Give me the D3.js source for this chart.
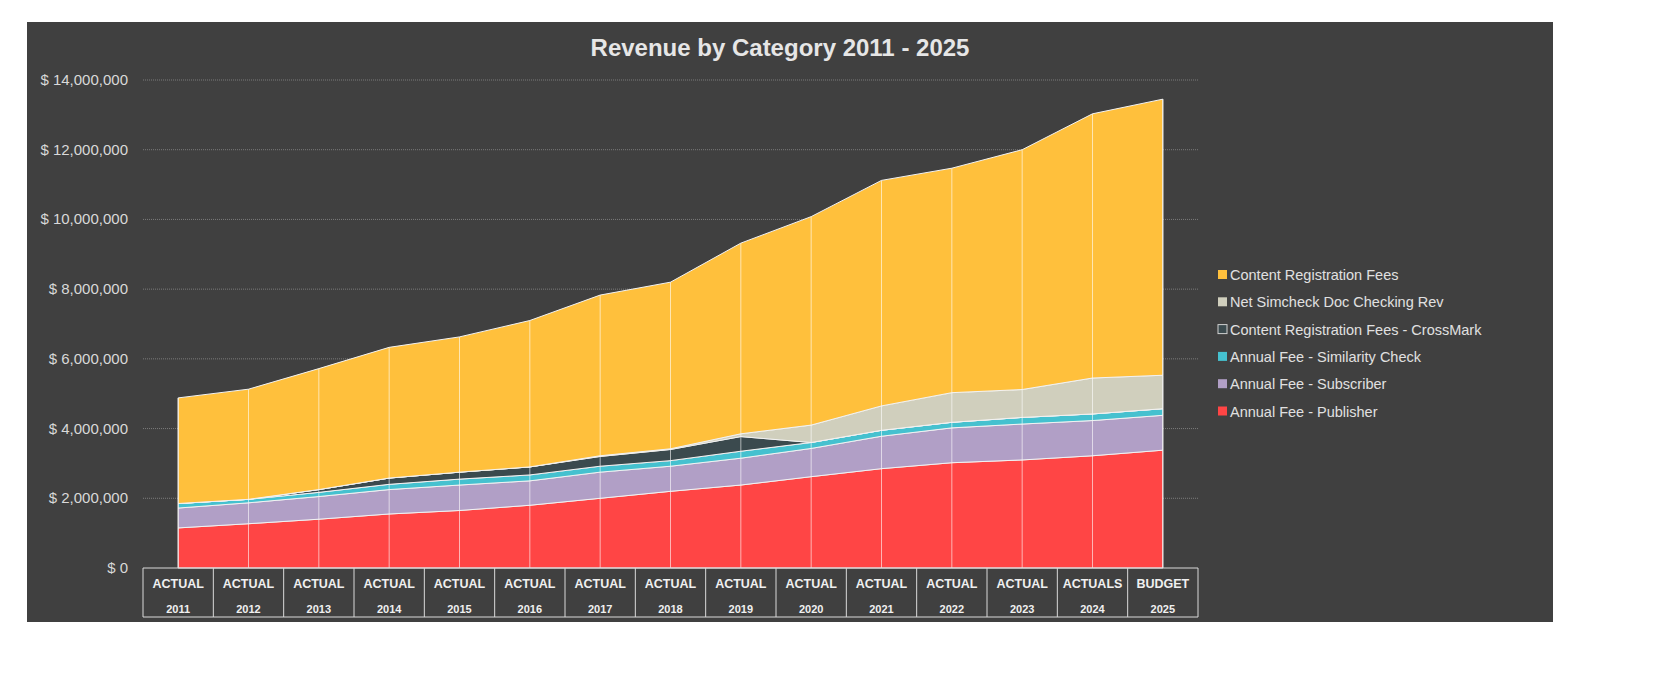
<!DOCTYPE html>
<html>
<head>
<meta charset="UTF-8">
<script src="https://cdn.jsdelivr.net/npm/d3@7/dist/d3.min.js"></script>
<style>
body{margin:0;background:#fff;font-family:"Liberation Sans",Arial,sans-serif;}
</style>
</head>
<body>
<svg id="chart" width="1656" height="688"></svg>
<script>
// stack order bottom -> top
var years=["2011","2012","2013","2014","2015","2016","2017","2018","2019","2020","2021","2022","2023","2024","2025"];
var kinds=["ACTUAL","ACTUAL","ACTUAL","ACTUAL","ACTUAL","ACTUAL","ACTUAL","ACTUAL","ACTUAL","ACTUAL","ACTUAL","ACTUAL","ACTUAL","ACTUALS","BUDGET"];
var seriesNames=["Annual Fee - Publisher","Annual Fee - Subscriber","Annual Fee - Similarity Check","Content Registration Fees - CrossMark","Net Simcheck Doc Checking Rev","Content Registration Fees"];
var colors=["#ff4545","#b19fc6","#45c1cf","#3b4a4e","#d0cfbd","#ffc03c"];
var publisher=[1150000,1270000,1400000,1550000,1650000,1800000,2000000,2200000,2380000,2620000,2850000,3020000,3100000,3220000,3380000];
var subscriber=[570000,600000,650000,700000,730000,700000,750000,720000,770000,810000,930000,1000000,1030000,1010000,1000000];
var similarity=[130000,100000,120000,150000,170000,170000,170000,160000,200000,170000,170000,160000,190000,190000,190000];
var crossmark=[0,0,80000,180000,200000,230000,280000,320000,420000,0,0,0,0,0,0];
var simcheck=[0,0,0,0,0,0,20000,20000,80000,500000,700000,850000,800000,1030000,960000];
var regFees=[3030000,3160000,3470000,3750000,3880000,4200000,4610000,4780000,5470000,5980000,6470000,6440000,6880000,7580000,7920000];
var yTicks=[0,2000000,4000000,6000000,8000000,10000000,12000000,14000000];

var all=[publisher,subscriber,similarity,crossmark,simcheck,regFees];
var rows=years.map(function(y,i){var o={year:y};seriesNames.forEach(function(n,k){o[n]=all[k][i];});return o;});
var stack=d3.stack().keys(seriesNames)(rows);

var svg=d3.select("#chart");
svg.append("rect").attr("x",27).attr("y",22).attr("width",1526).attr("height",600).attr("fill","#404040");
svg.append("text").attr("x",780).attr("y",56).attr("text-anchor","middle").attr("fill","#e6e6e6")
  .attr("font-size",24).attr("font-weight","bold").text("Revenue by Category 2011 - 2025");

var x0=143,x1=1198,yb=568,yt=80;
var band=d3.scaleBand().domain(years).range([x0,x1]);
var x=function(d){return band(d)+band.bandwidth()/2;};
var y=d3.scaleLinear().domain([0,14000000]).range([yb,yt]);

var g=svg.append("g");
g.selectAll(".grid").data(yTicks.slice(1)).enter().append("line")
  .attr("x1",x0).attr("x2",x1).attr("y1",y).attr("y2",y)
  .attr("stroke","#8a8a8a").attr("stroke-width",0.8).attr("stroke-dasharray","1,1");
g.selectAll(".yl").data(yTicks).enter().append("text")
  .attr("x",128).attr("y",function(d){return y(d)+5;}).attr("text-anchor","end")
  .attr("fill","#d9d9d9").attr("font-size",15)
  .text(function(d){return "$ "+d3.format(",")(d);});

var area=d3.area().x(function(d){return x(d.data.year);}).y0(function(d){return y(d[0]);}).y1(function(d){return y(d[1]);});
g.selectAll(".area").data(stack).enter().append("path")
  .attr("d",area).attr("fill",function(d,i){return colors[i];})
  .attr("stroke","#f2f2f2").attr("stroke-width",1);

// drop lines
g.selectAll(".drop").data(years).enter().append("line")
  .attr("x1",x).attr("x2",x).attr("y1",yb)
  .attr("y2",function(d,i){return y(stack[5][i][1]);})
  .attr("stroke","#ffffff").attr("stroke-opacity",0.6).attr("stroke-width",1);

// category axis box
var ax=svg.append("g");
ax.append("line").attr("x1",x0).attr("x2",x1).attr("y1",yb).attr("y2",yb).attr("stroke","#d9d9d9");
ax.append("line").attr("x1",x0).attr("x2",x1).attr("y1",617).attr("y2",617).attr("stroke","#d9d9d9");
ax.selectAll(".tk").data(years.concat(["end"])).enter().append("line")
  .attr("x1",function(d){return d==="end"?x1:band(d);}).attr("x2",function(d){return d==="end"?x1:band(d);})
  .attr("y1",yb).attr("y2",617).attr("stroke","#d9d9d9");
ax.selectAll(".k").data(years).enter().append("text")
  .attr("x",x).attr("y",588).attr("text-anchor","middle").attr("fill","#f0f0f0")
  .attr("font-size",12.5).attr("font-weight","bold").text(function(d,i){return kinds[i];});
ax.selectAll(".yr").data(years).enter().append("text")
  .attr("x",x).attr("y",613).attr("text-anchor","middle").attr("fill","#f0f0f0")
  .attr("font-size",11).attr("font-weight","bold").text(function(d){return d;});

// legend top = last series
var leg=svg.append("g").selectAll("g").data(seriesNames.slice().reverse()).enter().append("g")
  .attr("transform",function(d,i){return "translate(1218,"+(275+i*27.3)+")";});
leg.append("rect").attr("x",0).attr("y",-5).attr("width",9).attr("height",9)
  .attr("fill",function(d){return colors[seriesNames.indexOf(d)];})
  .attr("stroke",function(d){return d==="Content Registration Fees - CrossMark"?"#d0d0d0":"none";});
leg.append("text").attr("x",12).attr("y",5).attr("fill","#e0e0e0").attr("font-size",14.5).text(function(d){return d;});
</script>
</body>
</html>
